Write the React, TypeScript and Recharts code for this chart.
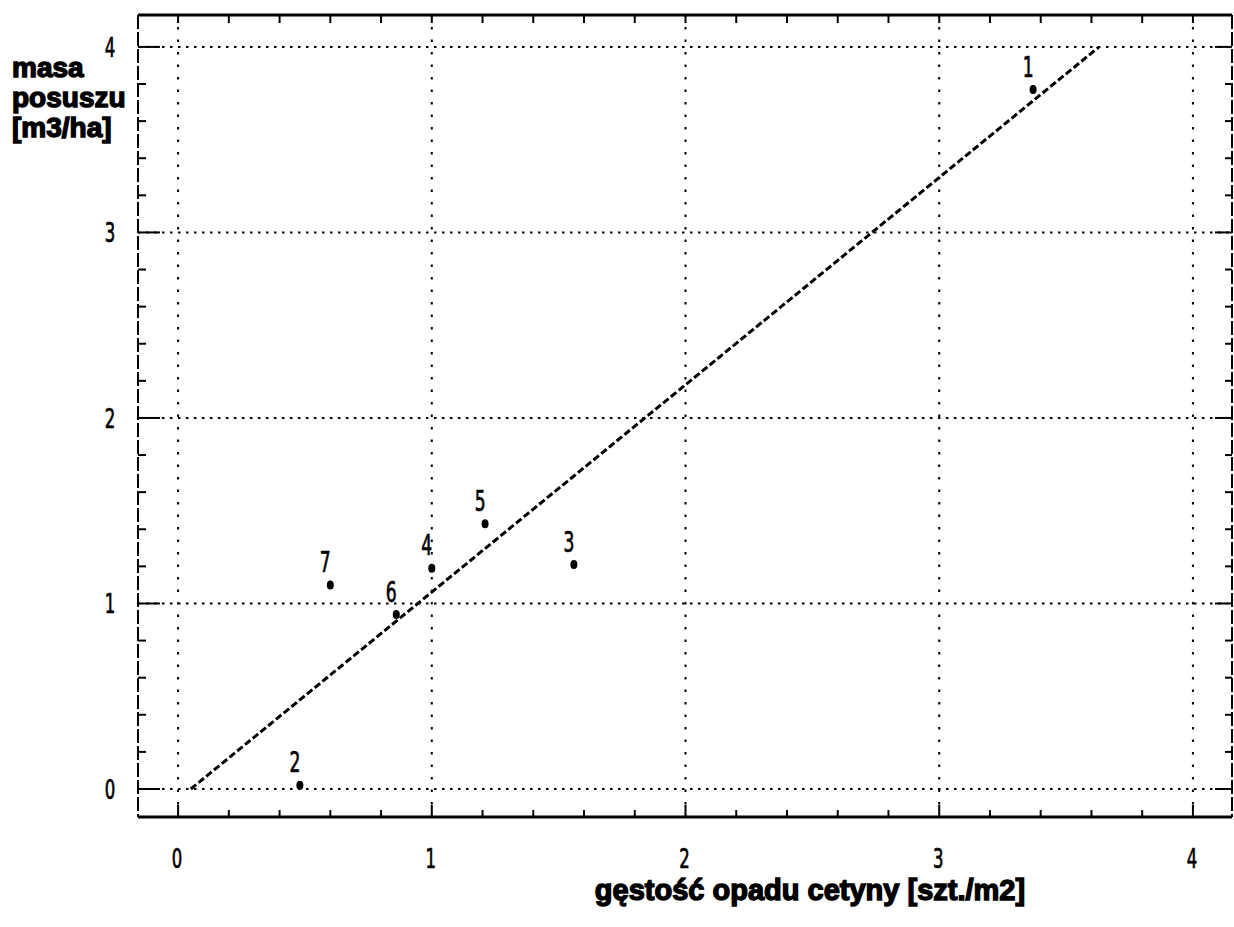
import React from 'react';
import { ComposedChart, XAxis, YAxis, Scatter, ReferenceLine } from 'recharts';

// ---- data ----
const pointLabels = ['1', '2', '3', '4', '5', '6', '7'];
const densityValues = [3.37, 0.48, 1.56, 1.0, 1.21, 0.86, 0.6];
const massValues = [3.77, 0.02, 1.21, 1.19, 1.43, 0.94, 1.1];
const fitDensity = [0.05, 3.63];
const fitMass = [0, 4];
const gridValues = [0, 1, 2, 3, 4];
const tickValues = [0, 0.2, 0.4, 0.6, 0.8, 1, 1.2, 1.4, 1.6, 1.8, 2, 2.2, 2.4, 2.6, 2.8, 3, 3.2, 3.4, 3.6, 3.8, 4];
const xDomain: [number, number] = [-0.158, 4.154];
const yDomain: [number, number] = [-0.151, 4.172];
const xAxisTitle = 'gęstość opadu cetyny [szt./m2]';
const yAxisTitleLines = ['masa', 'posuszu', '[m3/ha]'];

const points = densityValues.map((x, i) => ({ x, y: massValues[i], id: pointLabels[i] }));
const fitLine = fitDensity.map((x, i) => ({ x, y: fitMass[i] }));

const DIGIT_FONT = '"DejaVu Sans Condensed", "DejaVu Sans", sans-serif';
const TITLE_FONT = '"Liberation Sans", Arial, sans-serif';

const isMajor = (v: number) => Math.abs(v - Math.round(v)) < 1e-6;

const Digit = ({ x, y, children, size = 27 }: any) => (
  <g transform={`translate(${x},${y}) scale(0.68,1)`}>
    <text x={0} y={0} dy="0.36em" textAnchor="middle" fontFamily={DIGIT_FONT} fontSize={size} fill="#000" stroke="#000" strokeWidth={0.7}>
      {children}
    </text>
  </g>
);

const BottomTick = (props: any) => {
  const { x, y, payload } = props;
  const major = isMajor(payload.value);
  return (
    <g>
      <line x1={x} x2={x} y1={y} y2={y - (major ? 12 : 7)} stroke="#000" strokeWidth={2} />
      {major && <Digit x={x - 1} y={y + 41}>{Math.round(payload.value)}</Digit>}
    </g>
  );
};

const TopTick = (props: any) => {
  const { x, y } = props;
  return <line x1={x} x2={x} y1={y} y2={y + 8} stroke="#000" strokeWidth={2} />;
};

const LeftTick = (props: any) => {
  const { x, y, payload } = props;
  const major = isMajor(payload.value);
  return (
    <g>
      <line x1={x} x2={x + (major ? 22 : 8)} y1={y} y2={y} stroke="#000" strokeWidth={2} />
      {major && <Digit x={x - 28} y={y}>{Math.round(payload.value)}</Digit>}
    </g>
  );
};

const RightTick = (props: any) => {
  const { x, y, payload } = props;
  const major = isMajor(payload.value);
  return <line x1={x} x2={x - (major ? 17 : 7)} y1={y} y2={y} stroke="#000" strokeWidth={2} />;
};

const PointShape = (props: any) => {
  const { cx, cy, payload } = props;
  if (cx == null || cy == null) return <g />;
  return (
    <g>
      <ellipse cx={cx} cy={cy} rx={3.5} ry={4.5} fill="#000" />
      <Digit x={cx - 5} y={cy - 23} size={28}>{payload.id}</Digit>
    </g>
  );
};

const NoShape = () => <g />;

export default function App() {
  return (
    <div style={{ position: 'absolute', left: 0, top: 0, width: 1234, height: 927, background: '#fff' }}>
      <ComposedChart width={1234} height={927} margin={{ top: 0, right: 0, bottom: 0, left: 0 }}>
        <XAxis
          xAxisId="bottom"
          type="number"
          dataKey="x"
          domain={xDomain}
          allowDataOverflow
          ticks={tickValues}
          interval={0}
          height={110}
          tickSize={0}
          tickMargin={0}
          tickLine={false}
          axisLine={{ stroke: '#000', strokeWidth: 3 }}
          tick={BottomTick}
        />
        <XAxis
          xAxisId="top"
          orientation="top"
          type="number"
          dataKey="x"
          domain={xDomain}
          allowDataOverflow
          ticks={tickValues}
          interval={0}
          height={15}
          tickSize={0}
          tickMargin={0}
          tickLine={false}
          axisLine={{ stroke: '#000', strokeWidth: 3 }}
          tick={TopTick}
        />
        <YAxis
          yAxisId="left"
          type="number"
          dataKey="y"
          domain={yDomain}
          allowDataOverflow
          ticks={tickValues}
          interval={0}
          width={138}
          tickSize={0}
          tickMargin={0}
          tickLine={false}
          axisLine={{ stroke: '#000', strokeWidth: 2, strokeDasharray: '14 3' }}
          tick={LeftTick}
        />
        <YAxis
          yAxisId="right"
          orientation="right"
          type="number"
          dataKey="y"
          domain={yDomain}
          allowDataOverflow
          ticks={tickValues}
          interval={0}
          width={2}
          tickSize={0}
          tickMargin={0}
          tickLine={false}
          axisLine={{ stroke: '#000', strokeWidth: 2, strokeDasharray: '14 3' }}
          tick={RightTick}
        />
        {gridValues.map((v) => (
          <ReferenceLine key={'gx' + v} xAxisId="bottom" yAxisId="left" x={v} stroke="#000" strokeWidth={2} strokeDasharray="2.5 10" />
        ))}
        {gridValues.map((v) => (
          <ReferenceLine key={'gy' + v} xAxisId="bottom" yAxisId="left" y={v} stroke="#000" strokeWidth={2} strokeDasharray="2.5 5.5" />
        ))}
        <Scatter
          xAxisId="bottom"
          yAxisId="left"
          data={fitLine}
          dataKey="y"
          line={{ stroke: '#000', strokeWidth: 3, strokeDasharray: '7 3' }}
          shape={NoShape}
          isAnimationActive={false}
        />
        <Scatter
          xAxisId="bottom"
          yAxisId="left"
          data={points}
          dataKey="y"
          shape={PointShape}
          isAnimationActive={false}
        />
      </ComposedChart>
      <svg width={1234} height={927} style={{ position: 'absolute', left: 0, top: 0, pointerEvents: 'none' }}>
        {yAxisTitleLines.map((t, i) => (
          <text key={t} x={12} y={77 + i * 30} fontFamily={TITLE_FONT} fontWeight={700} fontSize={28} fill="#000" stroke="#000" strokeWidth={1.4}>
            {t}
          </text>
        ))}
        <text x={810} y={900} textAnchor="middle" fontFamily={TITLE_FONT} fontWeight={700} fontSize={29} fill="#000" stroke="#000" strokeWidth={1.4}>
          {xAxisTitle}
        </text>
      </svg>
    </div>
  );
}
